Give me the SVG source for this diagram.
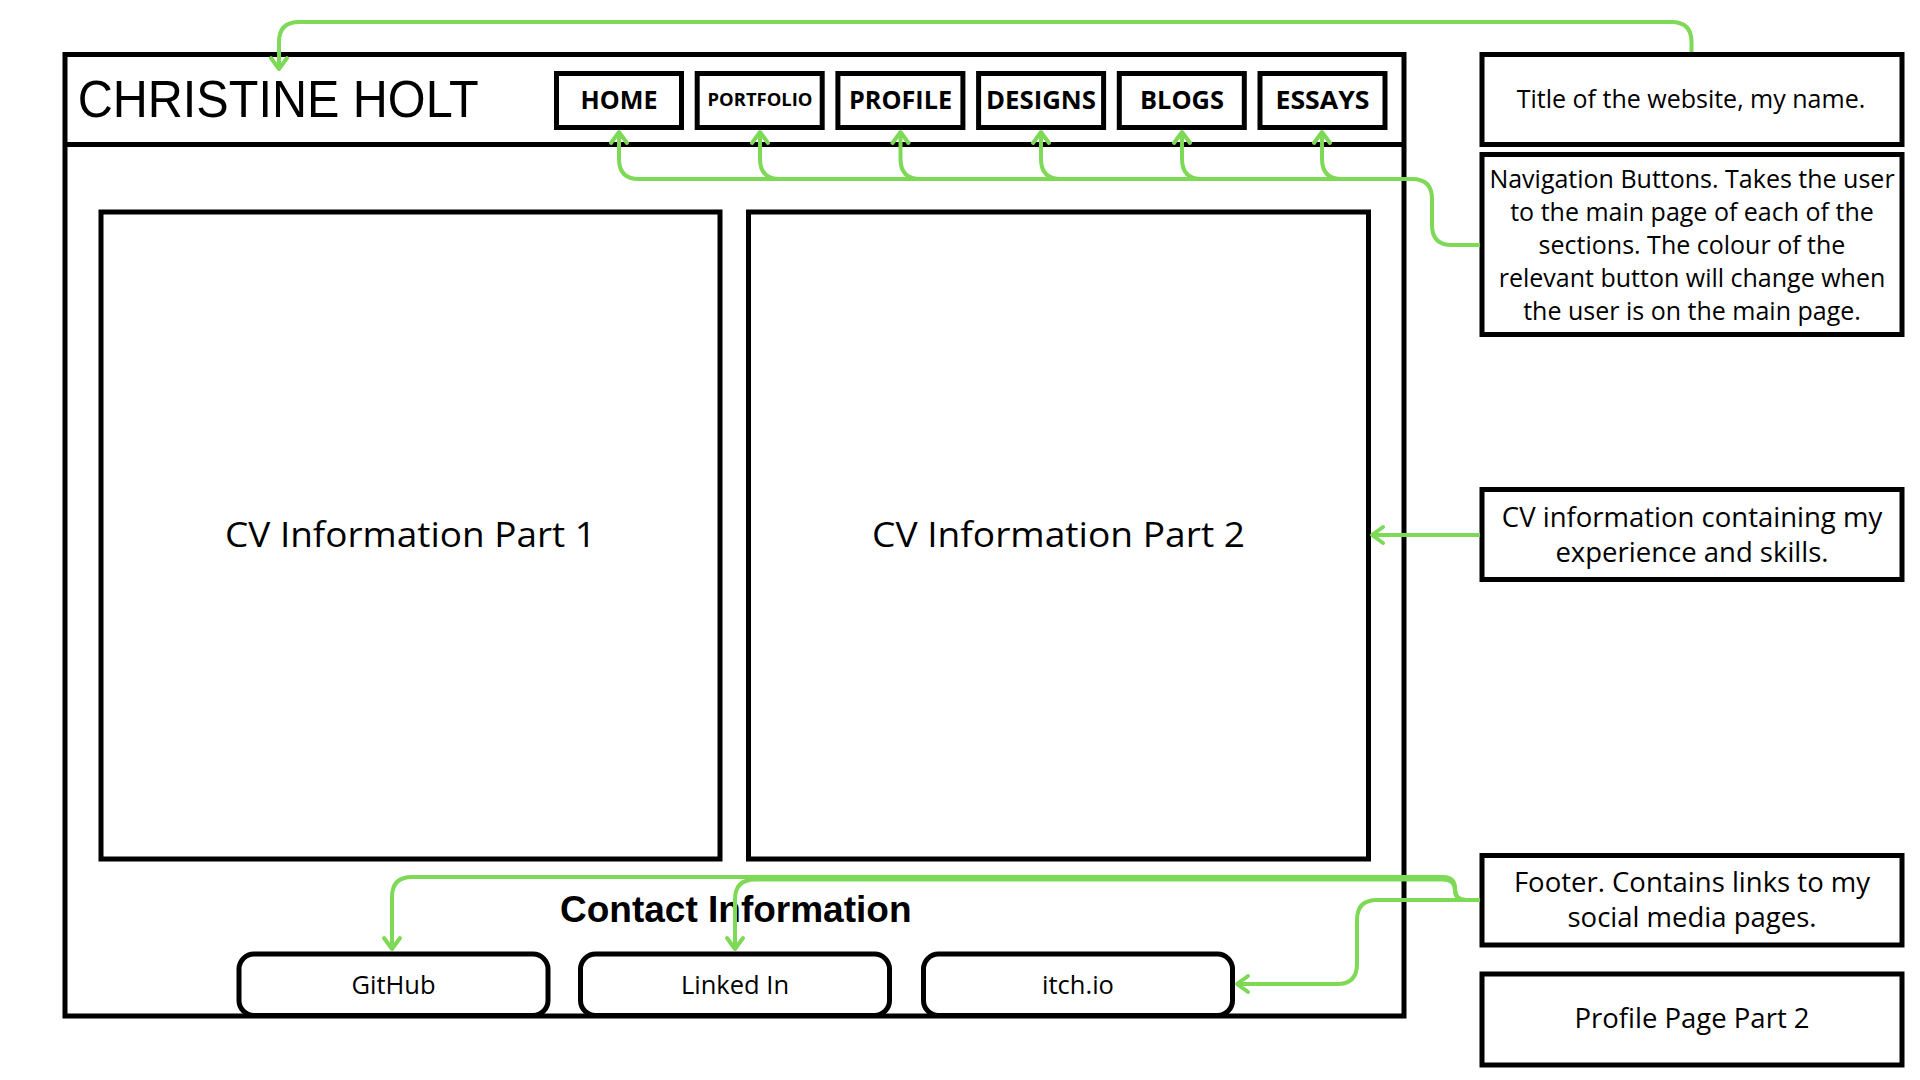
<svg xmlns="http://www.w3.org/2000/svg" width="1920" height="1080" viewBox="0 0 1920 1080">
<style>
.box{fill:none;stroke:#000;stroke-width:5}
.note{fill:#fff;stroke:#000;stroke-width:5}
.btn{fill:#fff;stroke:#000;stroke-width:5}
.conn{fill:none;stroke:#7ED957;stroke-width:4;stroke-linecap:butt;stroke-linejoin:round}
.t{font-family:"Open Sans","Noto Sans",sans-serif;fill:#000;text-anchor:middle}
.nav{font-family:"Open Sans","Noto Sans",sans-serif;font-weight:700;font-size:25px;fill:#000;text-anchor:middle}
</style>
<defs>
<marker id="arr" markerUnits="userSpaceOnUse" markerWidth="30" markerHeight="30" refX="15" refY="15" orient="auto" overflow="visible">
<path d="M4,7 L15,15 L4,23" fill="none" stroke="#7ED957" stroke-width="4" stroke-linecap="round" stroke-linejoin="round"/>
</marker>
</defs>
<rect width="1920" height="1080" fill="#fff"/>

<g id="page">
<rect class="box" x="65" y="54.5" width="1339" height="961.5"/>
<line x1="65" y1="144.5" x2="1404" y2="144.5" stroke="#000" stroke-width="5"/>
</g>

<g id="site-title">
<text x="77.7" y="116.7" font-family="Liberation Sans, Arial, sans-serif" font-size="51" textLength="401" lengthAdjust="spacingAndGlyphs">CHRISTINE HOLT</text>
</g>

<g id="btn-home"><rect class="btn" x="556.5" y="73.5" width="125" height="54"/><text class="nav" x="619" y="109" textLength="77" lengthAdjust="spacingAndGlyphs">HOME</text></g>
<g id="btn-portfolio"><rect class="btn" x="697.2" y="73.5" width="125" height="54"/><text class="nav" x="760" y="105.7" style="font-size:17.5px" textLength="105" lengthAdjust="spacingAndGlyphs">PORTFOLIO</text></g>
<g id="btn-profile"><rect class="btn" x="837.9" y="73.5" width="125" height="54"/><text class="nav" x="900.5" y="109" textLength="103" lengthAdjust="spacingAndGlyphs">PROFILE</text></g>
<g id="btn-designs"><rect class="btn" x="978.6" y="73.5" width="125" height="54"/><text class="nav" x="1041" y="109" textLength="110" lengthAdjust="spacingAndGlyphs">DESIGNS</text></g>
<g id="btn-blogs"><rect class="btn" x="1119.3" y="73.5" width="125" height="54"/><text class="nav" x="1182" y="109" textLength="84" lengthAdjust="spacingAndGlyphs">BLOGS</text></g>
<g id="btn-essays"><rect class="btn" x="1260" y="73.5" width="125" height="54"/><text class="nav" x="1322.5" y="109" textLength="94" lengthAdjust="spacingAndGlyphs">ESSAYS</text></g>

<g id="cv1"><rect class="box" x="101" y="212" width="619" height="647"/><text class="t" x="410.5" y="546.7" font-size="34" textLength="371" lengthAdjust="spacingAndGlyphs">CV Information Part 1</text></g>
<g id="cv2"><rect class="box" x="748.5" y="212" width="620" height="647"/><text class="t" x="1058.5" y="546.7" font-size="34" textLength="373" lengthAdjust="spacingAndGlyphs">CV Information Part 2</text></g>

<g id="contact-heading"><text x="560" y="921.7" font-family="Liberation Sans, Arial, sans-serif" font-weight="700" font-size="37">Contact Information</text></g>

<g id="btn-github"><rect class="btn" x="239" y="954" width="309" height="61.5" rx="15"/><text class="t" x="393.5" y="994" font-size="25.5">GitHub</text></g>
<g id="btn-linkedin"><rect class="btn" x="580.5" y="954" width="309" height="61.5" rx="15"/><text class="t" x="735" y="994" font-size="25.5">Linked In</text></g>
<g id="btn-itch"><rect class="btn" x="923.5" y="954" width="309" height="61.5" rx="15"/><text class="t" x="1078" y="994" font-size="25.5">itch.io</text></g>

<g id="note-title"><rect class="note" x="1482" y="54.5" width="420" height="90"/><text class="t" x="1691" y="108" font-size="25">Title of the website, my name.</text></g>
<g id="note-nav"><rect class="note" x="1482" y="154.5" width="420" height="180"/>
<text class="t" font-size="25"><tspan x="1692" y="188">Navigation Buttons. Takes the user</tspan><tspan x="1692" y="221">to the main page of each of the</tspan><tspan x="1692" y="254">sections. The colour of the</tspan><tspan x="1692" y="287">relevant button will change when</tspan><tspan x="1692" y="320">the user is on the main page.</tspan></text></g>
<g id="note-cv"><rect class="note" x="1482" y="489.5" width="420" height="90"/>
<text class="t" font-size="27.5"><tspan x="1692" y="527">CV information containing my</tspan><tspan x="1692" y="562">experience and skills.</tspan></text></g>
<g id="note-footer"><rect class="note" x="1482" y="855.5" width="420" height="89.5"/>
<text class="t" font-size="27.5"><tspan x="1692" y="891.7">Footer. Contains links to my</tspan><tspan x="1692" y="927">social media pages.</tspan></text></g>
<g id="note-profile"><rect class="note" x="1482" y="974" width="420" height="91"/><text class="t" x="1692" y="1028" font-size="27.5">Profile Page Part 2</text></g>

<g id="connectors">
<path class="conn" d="M1691.5,52 V42 Q1691.5,22 1671.5,22 H299 Q279,22 279,42 V69" marker-end="url(#arr)"/>
<path class="conn" d="M1480,245 H1452 Q1432,245 1432,225 V199 Q1432,179 1412,179 H639"/>
<path class="conn" d="M639,179 Q619,179 619,159 V132" marker-end="url(#arr)"/>
<path class="conn" d="M780,179 Q760,179 760,159 V132" marker-end="url(#arr)"/>
<path class="conn" d="M920.5,179 Q900.5,179 900.5,159 V132" marker-end="url(#arr)"/>
<path class="conn" d="M1061,179 Q1041,179 1041,159 V132" marker-end="url(#arr)"/>
<path class="conn" d="M1202,179 Q1182,179 1182,159 V132" marker-end="url(#arr)"/>
<path class="conn" d="M1342,179 Q1322,179 1322,159 V132" marker-end="url(#arr)"/>
<path class="conn" d="M1480,535 H1372" marker-end="url(#arr)"/>
<path class="conn" d="M1480,900 H1466 Q1455,900 1455,889 Q1455,877 1443,877 H412 Q392,877 392,897 V949" marker-end="url(#arr)"/>
<path class="conn" d="M1466,900 Q1455,900 1455,890 Q1455,879.5 1443,879.5 H755 Q735,879.5 735,899.5 V949" marker-end="url(#arr)"/>
<path class="conn" d="M1466,900 H1377 Q1357,900 1357,920 V964 Q1357,984 1337,984 H1237" marker-end="url(#arr)"/>
</g>
</svg>
